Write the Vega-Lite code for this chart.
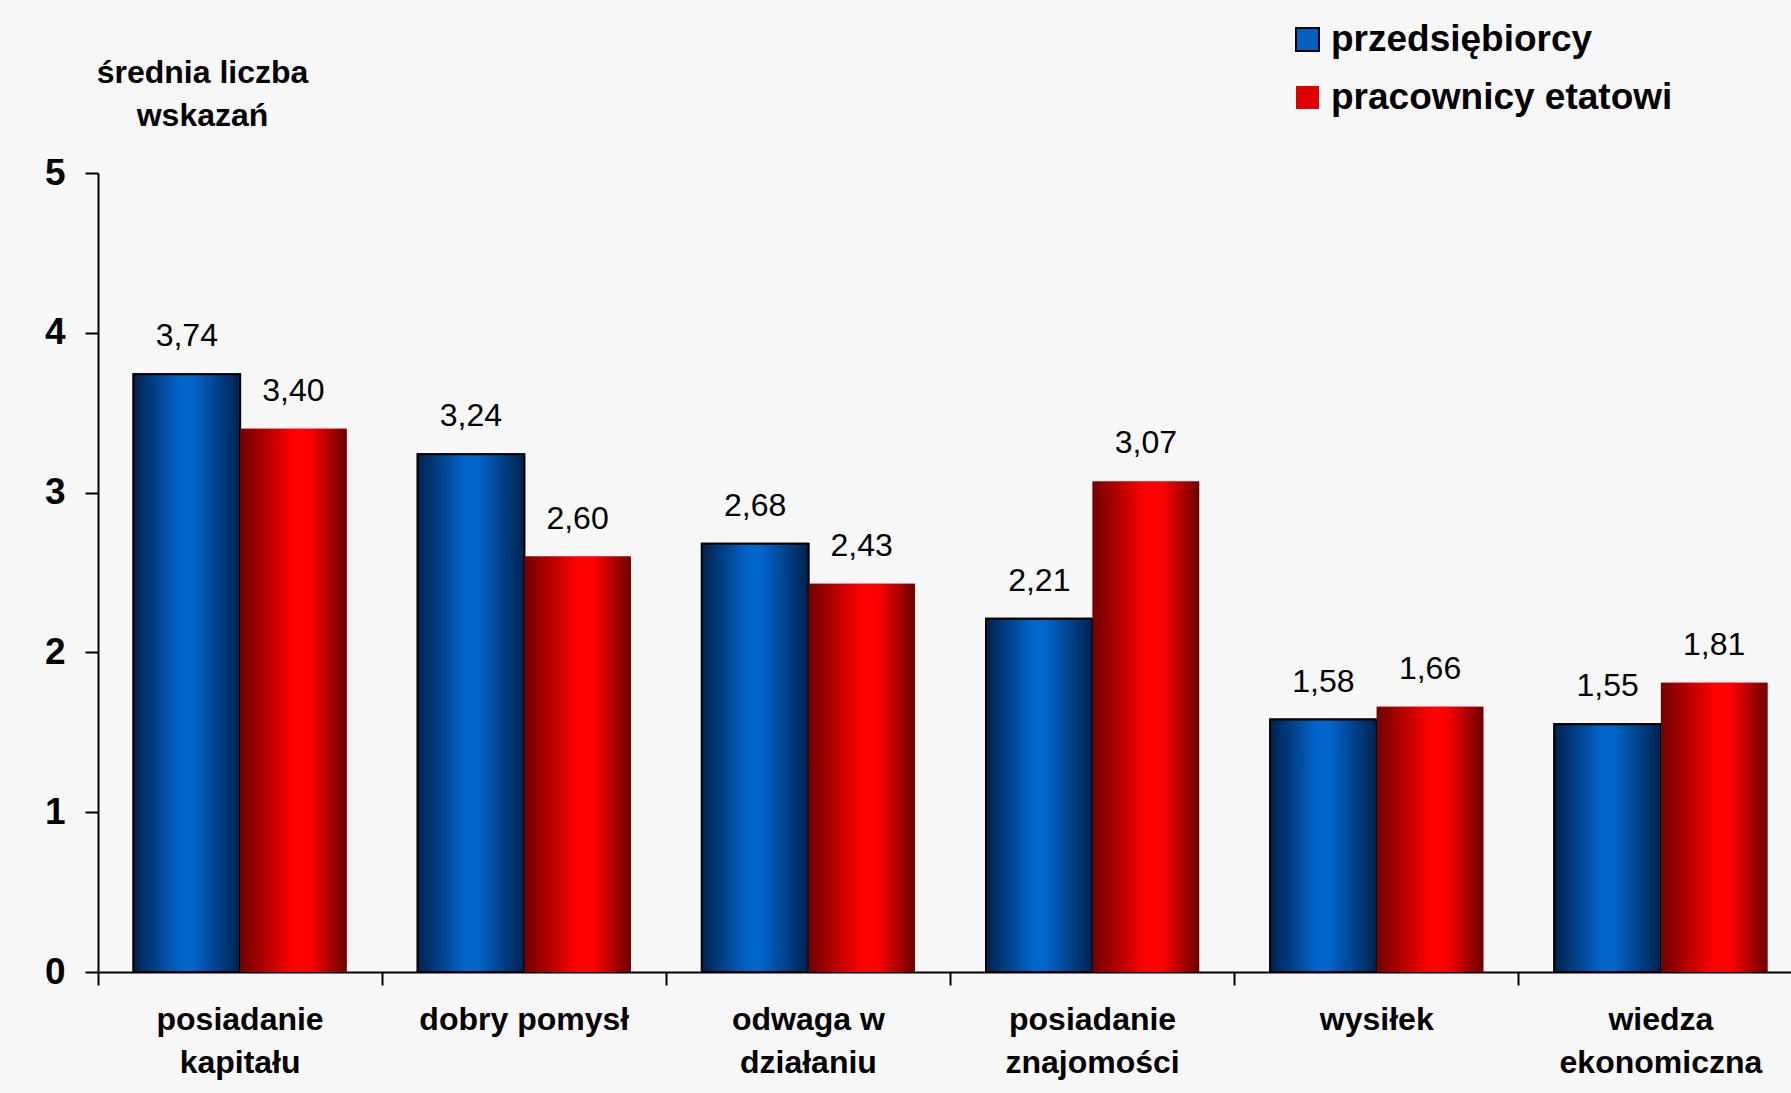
{
  "$schema": "https://vega.github.io/schema/vega-lite/v6.json",
  "width": 1705,
  "height": 799,
  "autosize": {"type": "none"},
  "padding": {"left": 98, "top": 173, "right": -12, "bottom": 121},
  "background": "#f7f7f7",
  "config": {
    "view": {"stroke": null},
    "font": "Liberation Sans",
    "locale": {"number": {"decimal": ",", "thousands": " ", "grouping": [3], "currency": ["", " zł"]}}
  },
  "data": {
    "values": [
      {"kategoria": "posiadanie\nkapitału", "grupa": "przedsiębiorcy", "wartosc": 3.74},
      {"kategoria": "posiadanie\nkapitału", "grupa": "pracownicy etatowi", "wartosc": 3.40},
      {"kategoria": "dobry pomysł", "grupa": "przedsiębiorcy", "wartosc": 3.24},
      {"kategoria": "dobry pomysł", "grupa": "pracownicy etatowi", "wartosc": 2.60},
      {"kategoria": "odwaga w\ndziałaniu", "grupa": "przedsiębiorcy", "wartosc": 2.68},
      {"kategoria": "odwaga w\ndziałaniu", "grupa": "pracownicy etatowi", "wartosc": 2.43},
      {"kategoria": "posiadanie\nznajomości", "grupa": "przedsiębiorcy", "wartosc": 2.21},
      {"kategoria": "posiadanie\nznajomości", "grupa": "pracownicy etatowi", "wartosc": 3.07},
      {"kategoria": "wysiłek", "grupa": "przedsiębiorcy", "wartosc": 1.58},
      {"kategoria": "wysiłek", "grupa": "pracownicy etatowi", "wartosc": 1.66},
      {"kategoria": "wiedza\nekonomiczna", "grupa": "przedsiębiorcy", "wartosc": 1.55},
      {"kategoria": "wiedza\nekonomiczna", "grupa": "pracownicy etatowi", "wartosc": 1.81}
    ]
  },
  "encoding": {
    "x": {
      "field": "kategoria", "type": "nominal", "sort": null,
      "scale": {"paddingInner": 0, "paddingOuter": 0},
      "axis": {
        "title": null, "labelAngle": 0, "labelFontSize": 32, "labelFontWeight": "bold",
        "labelColor": "#000000", "labelExpr": "split(datum.value, '\\n')", "labelLineHeight": 43,
        "labelPadding": 19, "labelBaseline": "top", "labelLimit": 0, "tickSize": 13, "tickWidth": 2, "tickColor": "#000000",
        "domainColor": "#000000", "domainWidth": 2, "bandPosition": 0, "grid": false
      }
    },
    "xOffset": {
      "field": "grupa", "type": "nominal", "sort": ["przedsiębiorcy", "pracownicy etatowi"],
      "scale": {"paddingInner": 0, "paddingOuter": 0.3333}
    },
    "y": {
      "field": "wartosc", "type": "quantitative",
      "scale": {"domain": [0, 5], "nice": false},
      "axis": {
        "values": [0, 1, 2, 3, 4, 5], "format": "d", "grid": false,
        "domainColor": "#000000", "domainWidth": 2, "tickColor": "#000000", "tickWidth": 2, "tickSize": 13,
        "labelFontSize": 37, "labelFontWeight": "bold", "labelColor": "#000000", "labelPadding": 20,
        "title": ["średnia liczba", "wskazań"], "titleFontSize": 32, "titleFontWeight": "bold",
        "titleColor": "#000000", "titleAngle": 0, "titleX": 104, "titleY": -116, "titleBaseline": "top",
        "titleAlign": "center", "titleLineHeight": 43, "titleLimit": 0
      }
    }
  },
  "layer": [
    {
      "mark": {"type": "bar", "strokeWidth": 2},
      "encoding": {
        "color": {
          "field": "grupa", "type": "nominal",
          "scale": {"domain": ["przedsiębiorcy", "pracownicy etatowi"], "range": ["#0060c0", "#e00000"]},
          "legend": {
            "orient": "none", "legendX": 1191, "legendY": -152, "title": null,
            "symbolType": "square", "symbolSize": 529, "symbolStrokeWidth": 2,
            "labelFontSize": 37, "labelFontWeight": "bold", "labelColor": "#000000", "labelLimit": 0,
            "labelOffset": 5, "rowPadding": 20, "padding": 0
          }
        },
        "stroke": {
          "field": "grupa", "type": "nominal",
          "scale": {"domain": ["przedsiębiorcy", "pracownicy etatowi"], "range": ["#000000", "rgba(0,0,0,0)"]}
        }
      }
    },
    {
      "transform": [{"filter": "datum.grupa === 'przedsiębiorcy'"}],
      "mark": {
        "type": "bar", "stroke": "#000000", "strokeWidth": 2,
        "fill": {"gradient": "linear", "x1": 0, "y1": 0, "x2": 1, "y2": 0,
          "stops": [{"offset": 0, "color": "#00224f"}, {"offset": 0.45, "color": "#0066cc"}, {"offset": 0.55, "color": "#0066cc"}, {"offset": 1, "color": "#00224f"}]}
      }
    },
    {
      "transform": [{"filter": "datum.grupa === 'pracownicy etatowi'"}],
      "mark": {
        "type": "bar",
        "fill": {"gradient": "linear", "x1": 0, "y1": 0, "x2": 1, "y2": 0,
          "stops": [{"offset": 0, "color": "#700000"}, {"offset": 0.5, "color": "#ff0000"}, {"offset": 0.65, "color": "#ff0000"}, {"offset": 1, "color": "#6a0000"}]}
      }
    },
    {
      "mark": {"type": "text", "fontSize": 32, "color": "#000000", "baseline": "alphabetic", "align": "center", "dy": -28},
      "encoding": {
        "text": {"field": "wartosc", "type": "quantitative", "format": ".2f"}
      }
    }
  ]
}
